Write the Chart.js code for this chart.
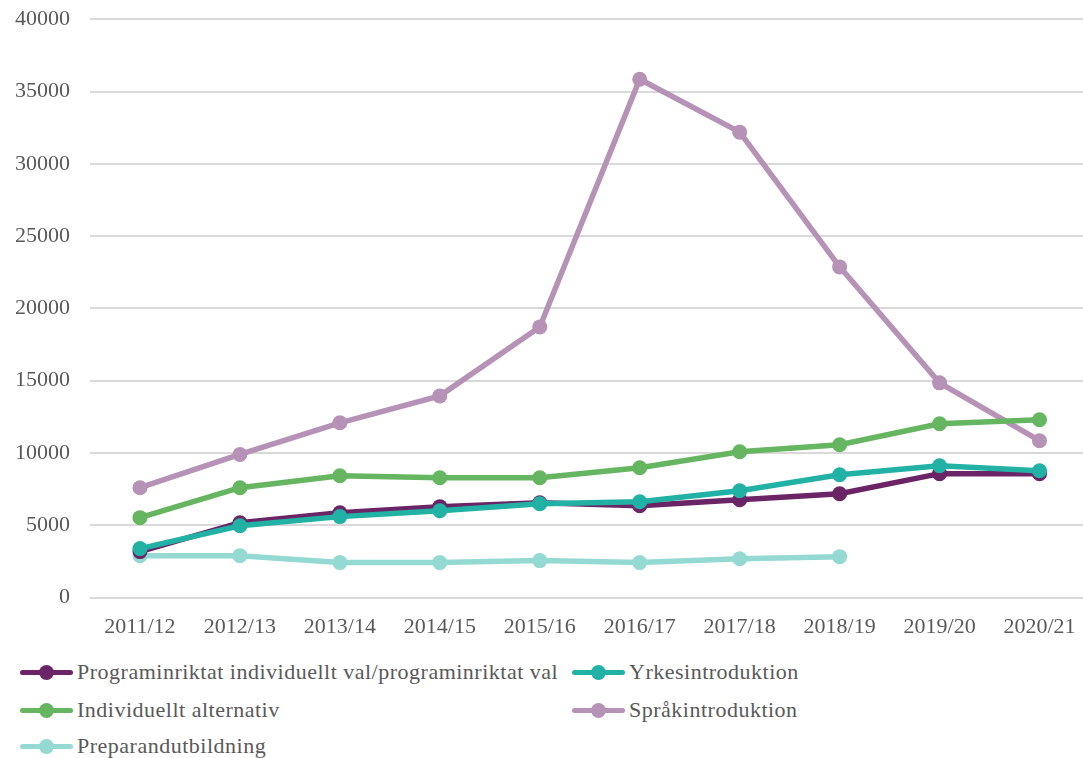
<!DOCTYPE html>
<html>
<head>
<meta charset="utf-8">
<script src="https://cdn.jsdelivr.net/npm/chart.js@4"></script>
<style>
  body { margin: 0; background: #fff; overflow: hidden; }
  #wrap { position: absolute; left: -5px; top: -14px; width: 1102px; height: 662px; }
  #legend { position: absolute; left: 0; top: 650px; width: 1083px; font-family: "Liberation Serif", serif; font-size: 22px; letter-spacing: 0.5px; color: #595959; }
  .item { position: absolute; display: flex; align-items: center; white-space: nowrap; }
  .mark { position: relative; width: 53px; height: 15px; margin-right: 4px; }
  .mark .ln { position: absolute; left: 0; right: 0; top: 5px; height: 5px; border-radius: 3px; }
  .mark .dt { position: absolute; left: 19px; top: 0; width: 15px; height: 15px; border-radius: 50%; }
</style>
</head>
<body>
<div id="wrap"><canvas id="chart" width="1102" height="662"></canvas></div>
<div id="legend"></div>
<script>
const years = ["2011/12", "2012/13", "2013/14", "2014/15", "2015/16", "2016/17", "2017/18", "2018/19", "2019/20", "2020/21"];

const programinriktat = [3180, 5180, 5870, 6290, 6560, 6360, 6770, 7180, 8570, 8570];
const yrkesintroduktion = [3390, 4970, 5600, 6010, 6490, 6630, 7390, 8500, 9120, 8770];
const individuellt = [5530, 7600, 8430, 8290, 8290, 8980, 10090, 10570, 12020, 12300];
const sprakintroduktion = [7600, 9900, 12090, 13950, 18720, 35850, 32190, 22870, 14850, 10850];
const preparand = [2900, 2900, 2420, 2420, 2560, 2420, 2690, 2830, null, null];

const names = ["Programinriktat individuellt val/programinriktat val", "Yrkesintroduktion", "Individuellt alternativ", "Språkintroduktion", "Preparandutbildning"];
const colors = ["#6b2567", "#21b1a5", "#66b560", "#b592b6", "#94dad3"];
const series = [programinriktat, yrkesintroduktion, individuellt, sprakintroduktion, preparand];

const fontFam = "'Liberation Serif', serif";

// draw order: last drawn on top
const order = [3, 2, 4, 0, 1];

new Chart(document.getElementById("chart"), {
    type: 'line',
    data: {
        labels: years,
        datasets: series.map((d, i) => ({
            label: names[i],
            data: d,
            borderColor: colors[i],
            backgroundColor: colors[i],
            borderWidth: 5.5,
            pointRadius: 7.5,
            pointHoverRadius: 7.5,
            pointBorderWidth: 0,
            tension: 0,
            order: order.length - order.indexOf(i)
        }))
    },
    options: {
        responsive: false,
        animation: false,
        layout: { padding: { left: 0, top: 0, right: 2, bottom: 0 } },
        plugins: {
            legend: { display: false },
            tooltip: { enabled: false }
        },
        scales: {
            x: {
                offset: true,
                grid: { display: false },
                border: { display: false },
                ticks: { color: '#595959', font: { family: fontFam, size: 22 }, padding: 8, maxRotation: 0, autoSkip: false }
            },
            y: {
                min: 0,
                max: 40000,
                grid: { color: '#d9d9d9', lineWidth: 2, drawTicks: false },
                border: { display: false },
                ticks: {
                    stepSize: 5000, color: '#595959', font: { family: fontFam, size: 22 }, padding: 20,
                    callback: v => String(v)
                }
            }
        }
    }
});

// legend laid out in two columns like the original
const legendPos = [[20, 22], [572, 22], [20, 60], [572, 60], [20, 96]];
const legend = document.getElementById("legend");
names.forEach((n, i) => {
    const it = document.createElement("div");
    it.className = "item";
    it.style.left = legendPos[i][0] + "px";
    it.style.top = (legendPos[i][1] - 13) + "px";
    it.innerHTML = '<span class="mark"><span class="ln" style="background:' + colors[i] + '"></span><span class="dt" style="background:' + colors[i] + '"></span></span><span>' + n + '</span>';
    legend.appendChild(it);
});
</script>
</body>
</html>
